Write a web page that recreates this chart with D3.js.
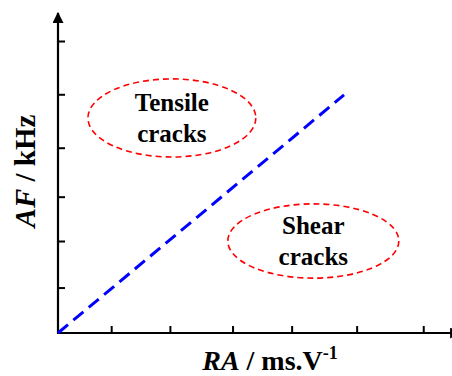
<!DOCTYPE html>
<html>
<head>
<meta charset="utf-8">
<script src="https://cdn.jsdelivr.net/npm/d3@7"></script>
<style>
  body { margin: 0; background: #fff; }
</style>
</head>
<body>
<div id="chart"></div>
<script>
// tick positions (arbitrary units, the chart is schematic)
const xTicks = [13.5, 28.4, 44.3, 59.3, 75.8, 92.7];
const yTicks = [14.2, 28.75, 42.6, 57.9, 74.6, 91.25];

// boundary line between the two crack types
const lineX = [0, 72.6];
const lineY = [0, 74.4];

// labelled regions
const regionNames = ["Tensile", "Shear"];
const regionCx = [28.9, 64.8];
const regionCy = [67.2, 28.75];
const regionRx = [21.3, 21.7];
const regionRy = [12.2, 11.6];

const width = 452, height = 376;
const serif = "'Liberation Serif', 'Times New Roman', Times, 'DejaVu Serif', serif";

const svg = d3.select("#chart")
    .append("svg")
    .attr("width", width)
    .attr("height", height)
    .attr("font-family", serif)
    .attr("font-weight", "bold");

const x = d3.scaleLinear().domain([0, 100]).range([58, 452]);
const y = d3.scaleLinear().domain([0, 100]).range([333, 13]);

// arrow heads
const defs = svg.append("defs");
defs.append("marker")
    .attr("id", "arrow")
    .attr("viewBox", "0 0 10 10")
    .attr("refX", 9)
    .attr("refY", 5)
    .attr("markerUnits", "userSpaceOnUse")
    .attr("markerWidth", 11)
    .attr("markerHeight", 11)
    .attr("orient", "auto")
    .append("path")
    .attr("d", "M0,0 L10,5 L0,10 z")
    .attr("fill", "#000");

// X axis
const xAxis = svg.append("g")
    .attr("transform", `translate(0, ${y(0)})`)
    .call(d3.axisTop(x).tickValues(xTicks).tickSize(7).tickFormat(""));
xAxis.select(".domain").remove();
xAxis.selectAll("line").attr("stroke", "#000").attr("stroke-width", 2);
svg.append("line")
    .attr("x1", x(0) - 1).attr("x2", x(100) + 8)
    .attr("y1", y(0)).attr("y2", y(0))
    .attr("stroke", "#000").attr("stroke-width", 2.2)
    .attr("marker-end", "url(#arrow)");

// Y axis
const yAxis = svg.append("g")
    .attr("transform", `translate(${x(0)}, 0)`)
    .call(d3.axisRight(y).tickValues(yTicks).tickSize(7).tickFormat(""));
yAxis.select(".domain").remove();
yAxis.selectAll("line").attr("stroke", "#000").attr("stroke-width", 2);
svg.append("line")
    .attr("x1", x(0)).attr("x2", x(0))
    .attr("y1", y(0) + 1).attr("y2", y(100))
    .attr("stroke", "#000").attr("stroke-width", 2.2)
    .attr("marker-end", "url(#arrow)");

// dashed boundary line
svg.append("path")
    .datum(d3.zip(lineX, lineY))
    .attr("d", d3.line().x(d => x(d[0])).y(d => y(d[1])))
    .attr("fill", "none")
    .attr("stroke", "#0000ff")
    .attr("stroke-width", 3)
    .attr("stroke-dasharray", "13,7");

// regions
const regions = svg.selectAll(".region")
    .data(regionNames)
    .enter()
    .append("g")
    .attr("class", "region");

regions.append("ellipse")
    .attr("cx", (d, i) => x(regionCx[i]))
    .attr("cy", (d, i) => y(regionCy[i]))
    .attr("rx", (d, i) => x(regionRx[i]) - x(0))
    .attr("ry", (d, i) => y(0) - y(regionRy[i]))
    .attr("fill", "none")
    .attr("stroke", "#ff0000")
    .attr("stroke-width", 1.6)
    .attr("stroke-dasharray", "6,4");

regions.append("text")
    .attr("x", (d, i) => x(regionCx[i]))
    .attr("y", (d, i) => y(regionCy[i]) - 7)
    .attr("text-anchor", "middle")
    .attr("font-size", 25)
    .text(d => d);

regions.append("text")
    .attr("x", (d, i) => x(regionCx[i]))
    .attr("y", (d, i) => y(regionCy[i]) + 24)
    .attr("text-anchor", "middle")
    .attr("font-size", 25)
    .text("cracks");

// axis titles
const xTitle = svg.append("text")
    .attr("x", 270)
    .attr("y", 370)
    .attr("text-anchor", "middle")
    .attr("font-size", 28);
xTitle.append("tspan").attr("font-style", "italic").text("RA");
xTitle.append("tspan").text(" / ms.V");
xTitle.append("tspan").attr("dy", -11).attr("font-size", 18).text("-1");

const yTitle = svg.append("text")
    .attr("transform", "translate(35, 171) rotate(-90)")
    .attr("text-anchor", "middle")
    .attr("font-size", 29);
yTitle.append("tspan").attr("font-style", "italic").text("AF");
yTitle.append("tspan").text(" / kHz");
</script>
</body>
</html>
